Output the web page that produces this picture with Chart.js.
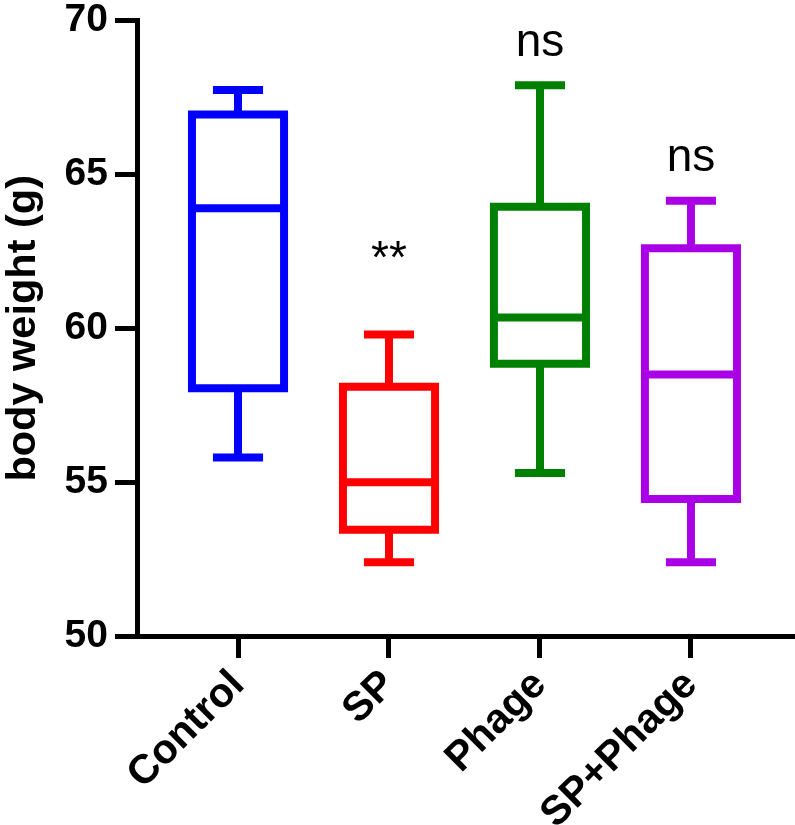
<!DOCTYPE html>
<html><head><meta charset="utf-8">
<script src="https://cdn.jsdelivr.net/npm/chart.js@4.4.1/dist/chart.umd.min.js"></script>
<style>html,body{margin:0;padding:0;background:#fff;} canvas{display:block;}</style>
</head><body>
<canvas id="c" width="795" height="825"></canvas>
<script>
// ---- data ----
const categories   = ['Control', 'SP', 'Phage', 'SP+Phage'];
const whiskerMin   = [55.8, 52.4, 55.3, 52.4];
const quartile1    = [58.05, 53.45, 58.85, 54.45];
const medians      = [63.9, 55.0, 60.35, 58.5];
const quartile3    = [66.95, 58.1, 63.95, 62.6];
const whiskerMax   = [67.75, 59.8, 67.9, 64.15];
const significance = ['', '**', 'ns', 'ns'];
const significanceLevel = [null, 61.8, 68.85, 65.1];
const yTickValues  = [50, 55, 60, 65, 70];
const groupColors  = ['#0000FF', '#FF0000', '#008000', '#AA00E5'];

const FONT = '"Liberation Sans", Arial, Helvetica, sans-serif';
const BOX_HALF = 0.305;   // half box width in category units
const CAP_HALF = 0.166;   // half whisker-cap width in category units

function boxPath(i) {
  const gap = {x: i, y: null};
  return [
    {x: i - CAP_HALF, y: whiskerMax[i]}, {x: i + CAP_HALF, y: whiskerMax[i]}, gap,
    {x: i, y: whiskerMax[i]}, {x: i, y: quartile3[i]}, gap,
    {x: i, y: quartile3[i]}, {x: i + BOX_HALF, y: quartile3[i]}, {x: i + BOX_HALF, y: quartile1[i]},
    {x: i - BOX_HALF, y: quartile1[i]}, {x: i - BOX_HALF, y: quartile3[i]}, {x: i, y: quartile3[i]}, gap,
    {x: i - BOX_HALF, y: medians[i]}, {x: i + BOX_HALF, y: medians[i]}, gap,
    {x: i, y: quartile1[i]}, {x: i, y: whiskerMin[i]}, gap,
    {x: i - CAP_HALF, y: whiskerMin[i]}, {x: i + CAP_HALF, y: whiskerMin[i]}
  ];
}

const datasets = categories.map((name, i) => ({
  label: name,
  data: boxPath(i),
  showLine: true,
  borderColor: groupColors[i],
  backgroundColor: groupColors[i],
  borderWidth: 8,
  pointRadius: 0,
  pointHoverRadius: 0,
  fill: false,
  tension: 0,
  spanGaps: false,
  borderCapStyle: 'butt',
  borderJoinStyle: 'miter'
}));

const sigPlugin = {
  id: 'sigLabels',
  afterDatasetsDraw(chart) {
    const {ctx, scales: {x, y}} = chart;
    ctx.save();
    ctx.fillStyle = '#000';
    ctx.font = '46px ' + FONT;
    ctx.textAlign = 'center';
    ctx.textBaseline = 'alphabetic';
    significance.forEach((s, i) => {
      if (!s) return;
      ctx.fillText(s, x.getPixelForValue(i), y.getPixelForValue(significanceLevel[i]));
    });
    ctx.restore();
  }
};

new Chart(document.getElementById('c'), {
  type: 'scatter',
  data: {datasets},
  plugins: [sigPlugin],
  options: {
    responsive: false,
    animation: false,
    devicePixelRatio: 1,
    layout: {padding: {top: 14, right: 0, bottom: 0, left: 0}},
    plugins: {legend: {display: false}, tooltip: {enabled: false}},
    scales: {
      x: {
        type: 'linear',
        position: 'bottom',
        min: -0.669,
        max: 3.689,
        afterBuildTicks: (scale) => { scale.ticks = categories.map((c, i) => ({value: i})); },
        afterFit: (scale) => { scale.height = 189; },
        border: {display: true, color: '#000', width: 5},
        grid: {drawOnChartArea: false, drawTicks: true, tickLength: 22, tickWidth: 5, tickColor: '#000'},
        ticks: {
          autoSkip: false,
          maxRotation: 45, minRotation: 45,
          padding: 3,
          color: '#000',
          font: {family: FONT, size: 41, weight: 'bold'},
          callback: (v) => categories[v] ?? ''
        }
      },
      y: {
        type: 'linear',
        min: 50, max: 70,
        afterBuildTicks: (scale) => { scale.ticks = yTickValues.map(v => ({value: v})); },
        afterFit: (scale) => { scale.width = 137; },
        border: {display: true, color: '#000', width: 5},
        grid: {drawOnChartArea: false, drawTicks: true, tickLength: 22, tickWidth: 5, tickColor: '#000'},
        ticks: {
          padding: 7,
          color: '#000',
          font: {family: FONT, size: 39, weight: 'bold', lineHeight: 0.7}
        },
        title: {
          display: true,
          text: 'body weight (g)',
          color: '#000',
          font: {family: FONT, size: 41.5, weight: 'bold', lineHeight: 1.15},
          padding: {top: 0, bottom: 0}
        }
      }
    }
  }
});
</script>
</body></html>
